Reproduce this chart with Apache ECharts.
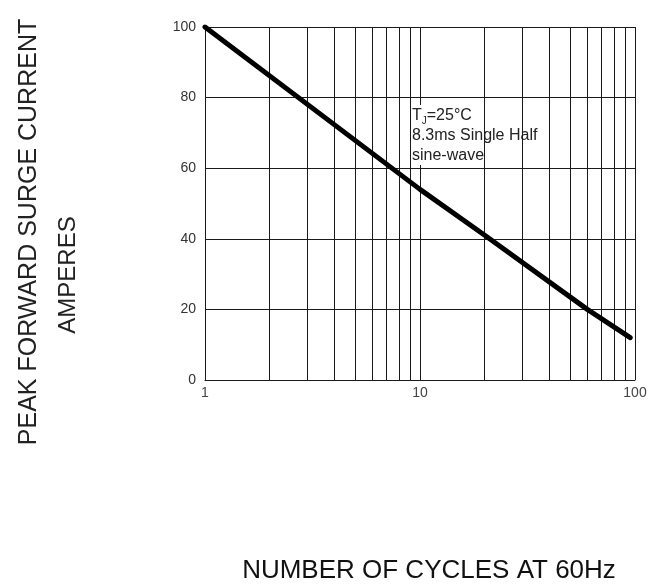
<!DOCTYPE html>
<html>
<head>
<meta charset="utf-8">
<script src="https://cdn.jsdelivr.net/npm/echarts@6/dist/echarts.min.js"></script>
<style>
  html, body { margin: 0; padding: 0; background: #fff; }
  #chart { width: 661px; height: 585px; }
</style>
</head>
<body>
<div id="chart"></div>
<script>
// surge current vs number of cycles
var cycles = [1, 10, 20, 60, 95];
var surgeAmps = [100, 54, 41, 20, 12];

// minor decade gridlines of the log axis
var minorCycles = [2, 3, 4, 5, 6, 7, 8, 9, 20, 30, 40, 50, 60, 70, 80, 90];

var yTicks = [0, 20, 40, 60, 80, 100];
var xTicks = [1, 10, 100];

var FONT = 'Liberation Sans, Arial, sans-serif';
var INK = '#1a1a1a';

var chart = echarts.init(document.getElementById('chart'));

var curve = cycles.map(function (c, i) {
    return [c, surgeAmps[i]];
});

var option = {
    animation: false,
    backgroundColor: '#fff',
    grid: {
        left: 205,
        right: 26,
        top: 27,
        bottom: 205
    },
    xAxis: {
        type: 'log',
        logBase: 10,
        min: xTicks[0],
        max: xTicks[xTicks.length - 1],
        axisLine: { show: true, lineStyle: { color: INK, width: 1 } },
        axisTick: { show: false },
        axisLabel: {
            color: '#444',
            fontFamily: FONT,
            fontSize: 14,
            margin: 6
        },
        splitLine: { show: true, lineStyle: { color: INK, width: 1 } }
    },
    yAxis: {
        type: 'value',
        min: yTicks[0],
        max: yTicks[yTicks.length - 1],
        interval: 20,
        axisLine: { show: true, lineStyle: { color: INK, width: 1 } },
        axisTick: { show: false },
        axisLabel: {
            color: '#333',
            fontFamily: FONT,
            fontSize: 14,
            margin: 9
        },
        splitLine: { show: true, lineStyle: { color: INK, width: 1 } }
    },
    series: [
        {
            // holder for the minor vertical gridlines
            type: 'line',
            z: 0,
            data: [],
            markLine: {
                silent: true,
                symbol: 'none',
                label: { show: false },
                lineStyle: { color: INK, width: 1, type: 'solid' },
                data: minorCycles.map(function (c) {
                    return { xAxis: c };
                })
            }
        },
        {
            type: 'line',
            z: 5,
            data: curve,
            showSymbol: false,
            lineStyle: { color: '#000', width: 5, cap: 'round' }
        }
    ],
    graphic: {
        elements: [
            {
                type: 'rect',
                z: 1,
                shape: { x: 405, y: 105, width: 141, height: 60 },
                style: { fill: '#fff' }
            },
            {
                type: 'text',
                z: 2,
                x: 412,
                y: 106,
                style: {
                    text: '{t|T}{s|J}{t|=25°C}\n{t|8.3ms Single Half}\n{t|sine-wave}',
                    fill: '#222',
                    font: '16px ' + FONT,
                    lineHeight: 20,
                    rich: {
                        t: { fontSize: 16, fontFamily: FONT, fill: '#222', lineHeight: 20 },
                        s: { fontSize: 10, fontFamily: FONT, fill: '#222', lineHeight: 20, verticalAlign: 'bottom', padding: [4, 0, 0, 0] }
                    }
                }
            },
            {
                type: 'text',
                x: 29,
                y: 232,
                rotation: Math.PI / 2,
                style: {
                    text: 'PEAK FORWARD SURGE CURRENT',
                    fill: '#222',
                    font: '25px ' + FONT,
                    align: 'center',
                    verticalAlign: 'middle'
                }
            },
            {
                type: 'text',
                x: 68,
                y: 275,
                rotation: Math.PI / 2,
                style: {
                    text: 'AMPERES',
                    fill: '#222',
                    font: '24px ' + FONT,
                    align: 'center',
                    verticalAlign: 'middle'
                }
            },
            {
                type: 'text',
                x: 429,
                y: 571,
                style: {
                    text: 'NUMBER OF CYCLES AT 60Hz',
                    fill: '#111',
                    font: '26px ' + FONT,
                    align: 'center',
                    verticalAlign: 'middle'
                }
            }
        ]
    }
};

chart.setOption(option);
</script>
</body>
</html>
